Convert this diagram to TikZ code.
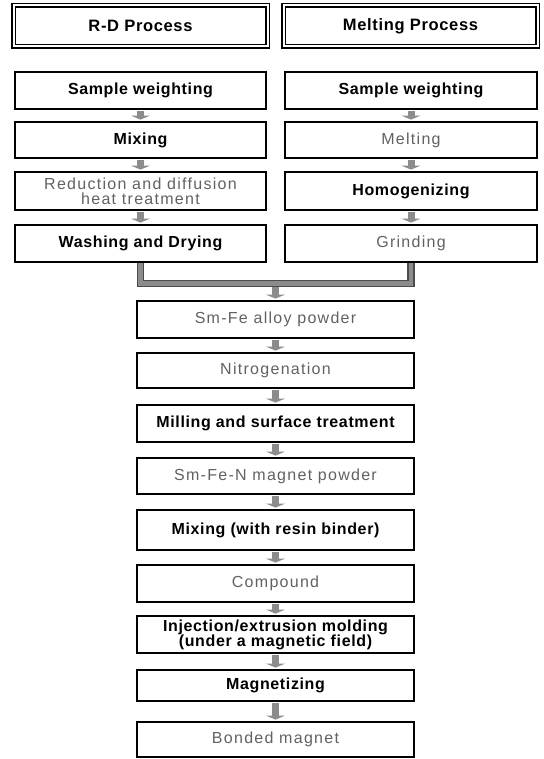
\documentclass[tikz,border=0pt]{standalone}
\usepackage{fontspec}
\setmainfont{Liberation Sans}
\newfontfamily\graytxt{Liberation Sans}[LetterSpace=8]
\newfontfamily\boldtxt{Liberation Sans}[LetterSpace=4]
\usetikzlibrary{arrows.meta}
\definecolor{txtgray}{gray}{0.38}
\definecolor{arrgray}{gray}{0.55}
\tikzset{
  pbox/.style={draw=black, line width=2.4pt, inner sep=0pt, align=center,
    font=\boldtxt\bfseries\fontsize{16}{15}\selectfont, text=black},
  gbox/.style={pbox, font=\graytxt\fontsize{16}{15}\selectfont, text=txtgray},
  lw/.style={minimum width=251pt},
  rw/.style={minimum width=252pt},
  cw/.style={minimum width=277pt},
  hdr/.style={draw=black, line width=1.6pt, double=white, double distance=2pt,
    inner sep=0pt, minimum width=254pt, minimum height=41pt,
    font=\boldtxt\bfseries\fontsize{16.5}{15}\selectfont},
  flow/.style={line width=7pt, draw=arrgray, -{Triangle[length=4pt,width=19pt]},
    shorten <=1.2pt, shorten >=1.2pt},
  merge/.style={line width=1.3pt, draw=black!70, double=arrgray, double distance=4.5pt}
}
\begin{document}
\begin{tikzpicture}[x=1pt,y=-1pt]
\useasboundingbox (0,0) rectangle (543,759);

% headers
\node[hdr] (hl) at (140.5,26) {R-D Process};
\node[hdr] (hr) at (410.5,26) {Melting Process};

% left column
\node[pbox,lw,minimum height=37pt] (l1) at (140.5,90.5) {Sample weighting};
\node[pbox,lw,minimum height=36pt] (l2) at (140.5,140) {Mixing};
\node[gbox,lw,minimum height=38pt] (l3) at (140.5,191) {Reduction and diffusion\\heat treatment};
\node[pbox,lw,minimum height=37pt] (l4) at (140.5,243.5) {Washing and Drying};

% right column
\node[pbox,rw,minimum height=37pt] (r1) at (411,90.5) {Sample weighting};
\node[gbox,rw,minimum height=36pt] (r2) at (411,140) {Melting};
\node[pbox,rw,minimum height=38pt] (r3) at (411,191) {Homogenizing};
\node[gbox,rw,minimum height=37pt] (r4) at (411,243.5) {Grinding};

% center column
\node[gbox,cw,minimum height=37pt] (c1) at (275.5,319.5) {Sm-Fe alloy powder};
\node[gbox,cw,minimum height=35pt] (c2) at (275.5,370.5) {Nitrogenation};
\node[pbox,cw,minimum height=37pt] (c3) at (275.5,423.5) {Milling and surface treatment};
\node[gbox,cw,minimum height=36pt] (c4) at (275.5,476) {Sm-Fe-N magnet powder};
\node[pbox,cw,minimum height=40pt] (c5) at (275.5,530) {Mixing (with resin binder)};
\node[gbox,cw,minimum height=37pt] (c6) at (275.5,583.5) {Compound};
\node[pbox,cw,minimum height=37pt] (c7) at (275.5,634.5) {Injection/extrusion molding\\(under a magnetic field)};
\node[pbox,cw,minimum height=31pt] (c8) at (275.5,685.5) {Magnetizing};
\node[gbox,cw,minimum height=35pt] (c9) at (275.5,739.5) {Bonded magnet};

% arrows
\draw[flow] (l1) -- (l2);
\draw[flow] (l2) -- (l3);
\draw[flow] (l3) -- (l4);
\draw[flow] (r1) -- (r2);
\draw[flow] (r2) -- (r3);
\draw[flow] (r3) -- (r4);
\foreach \a/\b in {c1/c2,c2/c3,c3/c4,c4/c5,c5/c6,c6/c7,c7/c8,c8/c9}
  \draw[flow] (\a) -- (\b);

% merge
\coordinate (mj) at (275.5,283.5);
\draw[flow] (mj) -- (c1);
\draw[merge] (l4.south) |- (mj) -| (r4.south);
\end{tikzpicture}
\end{document}
